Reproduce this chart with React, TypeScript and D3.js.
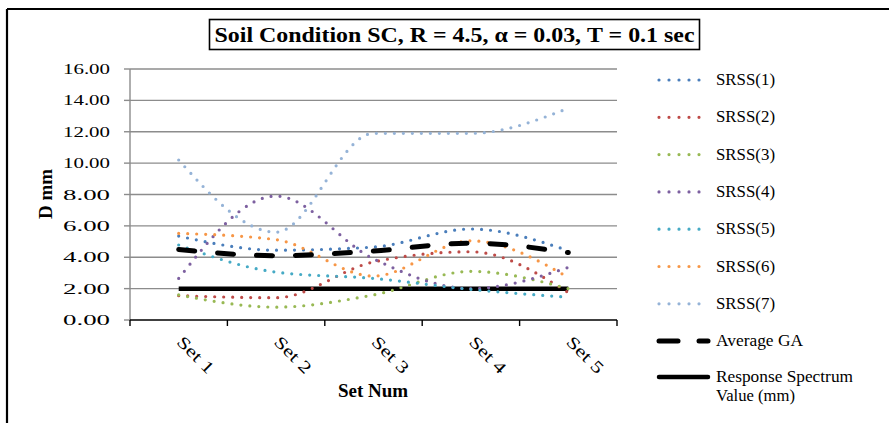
import React from "react";
import * as d3 from "d3";

const categories = ["Set 1", "Set 2", "Set 3", "Set 4", "Set 5"];
const srss1 = [5.35, 4.45, 4.65, 5.8, 4.42];
const srss2 = [1.55, 1.42, 3.7, 4.35, 1.75];
const srss3 = [1.6, 0.82, 1.6, 3.1, 2.0];
const srss4 = [2.65, 7.9, 3.9, 2.0, 3.35];
const srss5 = [4.78, 3.05, 2.65, 1.95, 1.45];
const srss6 = [5.52, 5.12, 2.8, 5.05, 2.72];
const srss7 = [10.2, 5.6, 11.9, 11.9, 13.5];
const averageGA = [4.5, 4.1, 4.4, 4.9, 4.3];
const responseSpectrum = [2, 2, 2, 2, 2];
const yTicks = [0, 2, 4, 6, 8, 10, 12, 14, 16];

const dotted = [
  { name: "SRSS(1)", values: srss1, color: "#4A7EBB" },
  { name: "SRSS(2)", values: srss2, color: "#BE4B48" },
  { name: "SRSS(3)", values: srss3, color: "#98B954" },
  { name: "SRSS(4)", values: srss4, color: "#7D60A0" },
  { name: "SRSS(5)", values: srss5, color: "#46AAC5" },
  { name: "SRSS(6)", values: srss6, color: "#F79646" },
  { name: "SRSS(7)", values: srss7, color: "#95B3D7" },
];

const X0 = 130, X1 = 617, Y0 = 320, Y1 = 69;

export default function App() {
  const x = d3.scalePoint<string>().domain(categories).range([X0, X1]).padding(0.5);
  const y = d3.scaleLinear().domain([0, 16]).range([Y0, Y1]);
  const band = (X1 - X0) / categories.length;
  const line = d3
    .line<number>()
    .x((_, i) => x(categories[i]) as number)
    .y((d) => y(d))
    .curve(d3.curveMonotoneX);
  const serif = "'Liberation Serif', 'Times New Roman', serif";
  const legendY = (i: number) => 80 + i * 37.3;

  return (
    <div style={{ position: "fixed", left: 0, top: 0 }}>
      <svg width={889} height={423} style={{ display: "block", background: "#fff" }} fontFamily={serif}>
        <rect x={0} y={0} width={889} height={423} fill="#fff" />
        {/* outer frame */}
        <line x1={7} y1={9} x2={889} y2={9} stroke="#000" strokeWidth={2.2} />
        <line x1={7} y1={9} x2={7} y2={423} stroke="#000" strokeWidth={2.2} />
        {/* title */}
        <rect x={209.5} y={19.5} width={490} height={30} fill="#fff" stroke="#000" strokeWidth={1.6} />
        <text x={454.5} y={42} textAnchor="middle" fontSize={20} fontWeight="bold" textLength={480} lengthAdjust="spacingAndGlyphs">
          Soil Condition SC, R = 4.5, α = 0.03,  T = 0.1 sec
        </text>
        {/* gridlines */}
        {yTicks.map((t) => (
          <g key={t}>
            {t > 0 && <line x1={X0} x2={X1} y1={y(t)} y2={y(t)} stroke="#8C8C8C" strokeWidth={1.4} />}
            <line x1={124} x2={X0} y1={y(t)} y2={y(t)} stroke="#8C8C8C" strokeWidth={1.4} />
            <text x={110} y={y(t) + 5} textAnchor="end" fontSize={15} textLength={47} lengthAdjust="spacingAndGlyphs">
              {t.toFixed(2)}
            </text>
          </g>
        ))}
        <line x1={X0} x2={X0} y1={Y1} y2={Y0} stroke="#8C8C8C" strokeWidth={1.4} />
        {/* x axis */}
        <line x1={X0} x2={X1} y1={Y0} y2={Y0} stroke="#000" strokeWidth={1.4} />
        {d3.range(categories.length + 1).map((i) => (
          <line key={i} x1={X0 + i * band} x2={X0 + i * band} y1={Y0} y2={Y0 + 6} stroke="#000" strokeWidth={1.4} />
        ))}
        {categories.map((c) => (
          <text key={c} transform={`translate(${(x(c) as number) - 3},${343}) rotate(45)`} fontSize={17} textLength={45} lengthAdjust="spacingAndGlyphs">
            {c}
          </text>
        ))}
        <text x={373} y={397} textAnchor="middle" fontSize={19} fontWeight="bold">Set Num</text>
        <text transform="translate(52,194) rotate(-90)" textAnchor="middle" fontSize={19} fontWeight="bold">D mm</text>
        {/* series */}
        <path d={line(responseSpectrum) || ""} fill="none" stroke="#000" strokeWidth={4.5} />
        {dotted.map((s) => (
          <path key={s.name} d={line(s.values) || ""} fill="none" stroke={s.color} strokeWidth={3.2} strokeLinecap="round" strokeDasharray="0 9" />
        ))}
        <path d={line(averageGA) || ""} fill="none" stroke="#000" strokeWidth={5} strokeLinecap="round" strokeDasharray="16 23" />
        {/* legend */}
        {dotted.map((s, i) => (
          <g key={s.name}>
            <line x1={659} x2={709} y1={legendY(i)} y2={legendY(i)} stroke={s.color} strokeWidth={3.2} strokeLinecap="round" strokeDasharray="0 10" />
            <text x={716} y={legendY(i) + 5} fontSize={16} textLength={59} lengthAdjust="spacingAndGlyphs">{s.name}</text>
          </g>
        ))}
        <line x1={659} x2={678} y1={legendY(7)} y2={legendY(7)} stroke="#000" strokeWidth={5} strokeLinecap="round" />
        <line x1={699} x2={708} y1={legendY(7)} y2={legendY(7)} stroke="#000" strokeWidth={5} strokeLinecap="round" />
        <text x={716} y={legendY(7) + 5} fontSize={16} textLength={87} lengthAdjust="spacingAndGlyphs">Average GA</text>
        <line x1={659} x2={708} y1={377} y2={377} stroke="#000" strokeWidth={4.5} strokeLinecap="round" />
        <text x={716} y={382} fontSize={16} textLength={137} lengthAdjust="spacingAndGlyphs">Response Spectrum</text>
        <text x={716} y={401} fontSize={16} textLength={79} lengthAdjust="spacingAndGlyphs">Value (mm)</text>
      </svg>
    </div>
  );
}
